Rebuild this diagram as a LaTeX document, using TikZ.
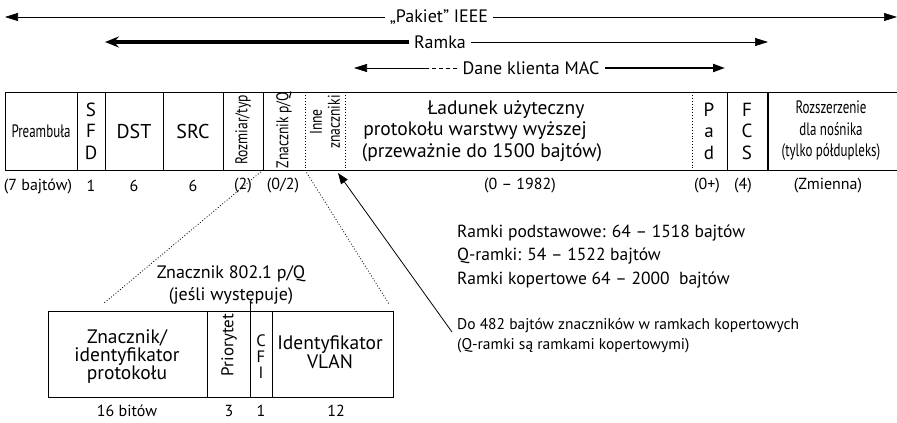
\documentclass[tikz,border=0pt]{standalone}
\usepackage{fontspec}
\setmainfont{PT Sans}
\newfontfamily\narrowf[FakeStretch=0.72]{PT Sans}
\newfontfamily\rotf[FakeStretch=0.8]{PT Sans}
\usetikzlibrary{arrows.meta}
\begin{document}
\begin{tikzpicture}[x=1pt,y=-1pt,
  lbl/.style={inner sep=5pt,font=\fontsize{18}{20}\selectfont},
  fld/.style={inner sep=0pt,font=\fontsize{19}{21.5}\selectfont,align=center},
  pl/.style={inner sep=0pt,font=\fontsize{19.5}{21}\selectfont},
  nar/.style={inner sep=0pt,font=\narrowf\fontsize{18}{21.5}\selectfont,align=center},
  rot/.style={inner sep=0pt,font=\rotf\fontsize{17}{18}\selectfont,align=center,rotate=90},
  num/.style={inner sep=0pt,font=\fontsize{16}{18}\selectfont},
  note/.style={inner sep=0pt,font=\fontsize{17.5}{20}\selectfont,anchor=west},
  small/.style={inner sep=0pt,font=\fontsize{15.5}{20}\selectfont,align=left,anchor=west},
  tag/.style={inner sep=0pt,font=\fontsize{19.5}{18}\selectfont,align=center},
  solidsep/.style={line width=0.9pt},
  dotsep/.style={line width=0.9pt,dotted},
  thinarr/.style={line width=0.7pt,-{Triangle[length=13pt,width=8pt]}},
  heavyarr/.style={line width=3.5pt,-{Stealth[length=14pt,width=11pt,inset=5pt]}},
  midarr/.style={line width=2pt,-{Triangle[length=12pt,width=8pt]}}]
\useasboundingbox (0,0) rectangle (897,423);

% top arrows
\node[lbl] (pak) at (439,17) {„Pakiet” IEEE};
\coordinate (pakL) at (5,17);
\coordinate (pakR) at (897,17);
\draw[thinarr] (pak.west) -- (pakL);
\draw[thinarr] (pak.east) -- (pakR);

\node[lbl] (ram) at (440,42) {Ramka};
\coordinate (ramL) at (105,42);
\coordinate (ramR) at (768,42);
\draw[heavyarr] (ram.west) -- (ramL);
\draw[thinarr] (ram.east) -- (ramR);

\node[lbl] (dane) at (531,68) {Dane klienta MAC};
\coordinate (daneL) at (354,68);
\coordinate (daneD) at (428,68);
\coordinate (daneR) at (725,68);
\draw[line width=0.7pt,dash pattern=on 4pt off 3pt] (dane.west) -- (daneD);
\draw[thinarr] (daneD) -- (daneL);
\draw[midarr] (dane.east) -- (daneR);

% frame
\draw[solidsep] (897,92) -- (5,92) -- (5,170) -- (897,170);
\foreach \x in {77,105,163,223,263,727}{\draw[solidsep] (\x,92) -- (\x,170);}
\draw[line width=1.4pt] (768,92) -- (768,170);
\foreach \x in {305,345,692}{\draw[dotsep] (\x,92) -- (\x,170);}

\node[nar] (pre) at (41,131) {Preambuła};
\node[fld] (sfd) at (91,131) {S\\F\\D};
\node[fld,font=\fontsize{20}{22}\selectfont] (dst) at (134,131) {DST};
\node[fld,font=\fontsize{20}{22}\selectfont] (src) at (193,131) {SRC};
\node[rot] (roz) at (243,130) {Rozmiar/typ};
\node[rot] (zpq) at (284,130) {Znacznik p/Q};
\node[rot] (inne) at (325,122) {Inne\\znaczniki};
\node[pl] (pay1) at (506,110) {Ładunek użyteczny};
\node[pl] (pay2) at (475,131) {protokołu warstwy wyższej};
\node[pl] (pay3) at (482,153) {(przeważnie do 1500 bajtów)};
\node[fld] (pad) at (709,131) {P\\a\\d};
\node[fld] (fcs) at (747,131) {F\\C\\S};
\node[nar] (ext) at (831,131) {Rozszerzenie\\dla nośnika\\(tylko półdupleks)};

% sizes
\node[num] (s1) at (38,186) {(7 bajtów)};
\node[num] (s2) at (91,186) {1};
\node[num] (s3) at (134,186) {6};
\node[num] (s4) at (193,186) {6};
\node[num] (s5) at (243,186) {(2)};
\node[num] (s6) at (283,186) {(0/2)};
\node[num] (s7) at (520,186) {(0 – 1982)};
\node[num] (s8) at (707,186) {(0+)};
\node[num] (s9) at (743,186) {(4)};
\node[num] (s10) at (828,186) {(Zmienna)};

% notes
\node[note] (n1) at (457,233) {Ramki podstawowe: 64 – 1518 bajtów};
\node[note] (n2) at (457,256) {Q-ramki: 54 – 1522 bajtów};
\node[note] (n3) at (457,280) {Ramki kopertowe 64 – 2000\ \ bajtów};
\node[small] (n4) at (457,336) {Do 482 bajtów znaczników w ramkach kopertowych\\(Q-ramki są ramkami kopertowymi)};

% callout arrow
\coordinate (arT) at (338,173);
\coordinate (arB) at (452,332);
\draw[line width=0.8pt,-{Triangle[length=11pt,width=8pt]}] (arB) -- (arT);

% dotted zoom lines
\coordinate (zA) at (263,170);
\coordinate (zB) at (305,170);
\coordinate (zC) at (103,304);
\coordinate (zD) at (389,304);
\draw[dotsep,line width=0.8pt] (zA) -- (zC);
\draw[dotsep,line width=0.8pt] (zB) -- (zD);

% tag caption
\node[inner sep=0pt,font=\fontsize{18}{22}\selectfont,align=center] (cap) at (231,285) {Znacznik 802.1 p/Q\\(jeśli występuje)};

% tag box
\draw[solidsep] (48,311) rectangle (393,397);
\draw[solidsep] (207,311) -- (207,397);
\draw[solidsep] (250,303) -- (250,397);
\draw[solidsep] (272,311) -- (272,397);
\node[tag] (tpid) at (127,357) {Znacznik/\\identyfikator\\protokołu};
\node[inner sep=0pt,rotate=90,font=\fontsize{17}{18}\selectfont] (pri) at (229,345) {Priorytet};
\node[inner sep=0pt,font=\fontsize{16.5}{16}\selectfont,align=center] (cfi) at (261,357) {C\\F\\I};
\node[tag,font=\fontsize{19.5}{19}\selectfont] (vlan) at (330,352) {Identyfikator\\VLAN};

\node[num] (b1) at (127,411) {16 bitów};
\node[num] (b2) at (229,411) {3};
\node[num] (b3) at (261,411) {1};
\node[num] (b4) at (336,411) {12};
\end{tikzpicture}
\end{document}
